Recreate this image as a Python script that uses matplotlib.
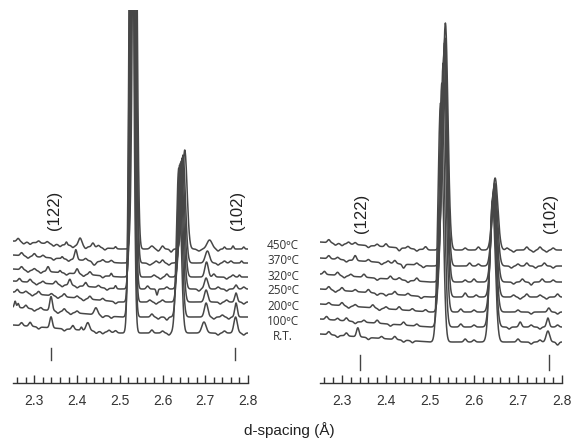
import numpy as np
import matplotlib
matplotlib.use("Agg")
import matplotlib.pyplot as plt
from matplotlib.ticker import MultipleLocator

# temperatures, top trace first
temps = ["450ºC", "370ºC", "320ºC", "250ºC", "200ºC", "100ºC", "R.T."]

# left panel (values in px above the axis line)
offsets_left = [134, 120, 106, 94, 81, 66, 50]
rise_left = [8, 8, 8, 8, 10, 10, 8]
main_pos_left = [2.535, 2.533, 2.532, 2.530, 2.529, 2.528, 2.527]
main_h_left = [520, 560, 600, 580, 620, 640, 650]
second_pos_left = [2.652, 2.648, 2.646, 2.644, 2.642, 2.640, 2.638]
second_h_left = [99, 108, 119, 128, 139, 152, 165]
minor_left = [
    [(2.262, 3, .003), (2.275, -2, .003), (2.29, -2, .003), (2.31, 2, .003), (2.33, 2, .003), (2.345, -2, .003),
     (2.36, -2, .003), (2.375, 3, .002), (2.39, -2, .003), (2.407, 8, .004), (2.42, -2, .003), (2.437, 4, .003),
     (2.45, 2, .003), (2.465, -2, .003), (2.49, 2, .002), (2.575, 3, .004), (2.59, -2, .003), (2.60, 3, .003),
     (2.62, -3, .003), (2.685, -2, .004), (2.71, 9, .006), (2.73, -2, .003), (2.745, 2, .002), (2.765, 3, .002),
     (2.79, 2, .002)],
    [(2.27, 3, .003), (2.285, -2, .003), (2.30, 3, .003), (2.32, 2, .003), (2.345, -2, .003), (2.365, 2, .002),
     (2.38, -2, .003), (2.397, 10, .003), (2.42, 2, .003), (2.44, -4, .004), (2.46, 2, .003), (2.48, 2, .003),
     (2.57, -2, .004), (2.585, 2, .003), (2.60, 3, .003), (2.615, -2, .003), (2.705, 12, .005), (2.73, -2, .003),
     (2.745, 2, .003), (2.76, 2, .003), (2.785, 2, .002)],
    [(2.27, 3, .003), (2.285, -2, .003), (2.30, 2, .003), (2.315, -2, .003), (2.332, 5, .003), (2.36, 2, .002),
     (2.375, -2, .003), (2.40, 5, .003), (2.415, -2, .003), (2.43, 3, .003), (2.46, -2, .003), (2.48, 3, .002),
     (2.58, 2, .003), (2.595, -2, .003), (2.61, 3, .003), (2.703, 15, .004), (2.72, 3, .003), (2.75, -2, .003),
     (2.765, 2, .003), (2.78, 2, .002)],
    [(2.265, 3, .003), (2.29, 3, .003), (2.305, -2, .003), (2.32, 2, .003), (2.35, 3, .003), (2.365, -2, .003),
     (2.383, 6, .003), (2.40, -2, .003), (2.42, 4, .003), (2.45, 2, .003), (2.47, -2, .003), (2.49, 3, .002),
     (2.565, 3, .003), (2.587, -6, .002), (2.61, 2, .003), (2.685, -2, .003), (2.702, 11, .004), (2.73, 2, .003),
     (2.75, -2, .003), (2.772, 4, .003), (2.79, 2, .003)],
    [(2.26, 3, .003), (2.28, 2, .003), (2.295, -2, .003), (2.31, 3, .003), (2.34, 2, .003), (2.355, -2, .003),
     (2.37, 3, .003), (2.40, 2, .003), (2.415, -2, .003), (2.43, 3, .003), (2.46, 2, .003), (2.49, -2, .003),
     (2.57, 2, .003), (2.585, -2, .003), (2.60, 2, .003), (2.702, 12, .004), (2.735, -2, .003), (2.75, 2, .003),
     (2.772, 9, .003), (2.79, -2, .003)],
    [(2.255, 6, .002), (2.262, 4, .002), (2.28, 3, .003), (2.30, -2, .003), (2.315, 2, .003), (2.339, 14, .003),
     (2.355, -2, .003), (2.37, 3, .003), (2.385, -2, .003), (2.40, 2, .003), (2.444, 7, .004), (2.46, -2, .003),
     (2.48, -2, .003), (2.575, 3, .003), (2.59, -2, .003), (2.61, -3, .003), (2.702, 14, .004), (2.72, -2, .003),
     (2.74, 2, .003), (2.755, -2, .003), (2.772, 14, .003)],
    [(2.27, 3, .003), (2.29, 4, .003), (2.31, -2, .003), (2.339, 11, .003), (2.37, -2, .003), (2.39, 4, .003),
     (2.41, 3, .002), (2.425, 8, .004), (2.445, -2, .003), (2.46, -2, .003), (2.475, 2, .003), (2.49, 2, .003),
     (2.575, 3, .003), (2.60, 2, .003), (2.615, -2, .003), (2.697, 11, .005), (2.73, -2, .003), (2.745, 2, .003),
     (2.771, 16, .004), (2.79, -2, .003)],
]

# right panel
offsets_right = [133, 117, 101, 86, 71, 56, 41]
rise_right = [8, 8, 8, 8, 8, 8, 8]
main_pos_right = [2.535, 2.534, 2.533, 2.532, 2.530, 2.527, 2.524]
main_h_right = [227, 228, 239, 244, 249, 244, 239]
second_pos_right = [2.648, 2.647, 2.646, 2.645, 2.644, 2.643, 2.642]
second_h_right = [72, 83, 95, 106, 119, 130, 141]
minor_right = [
    [(2.27, 3, .003), (2.285, -2, .003), (2.30, -2, .003), (2.315, 2, .003), (2.33, 2, .003), (2.36, -2, .003),
     (2.38, 2, .003), (2.40, 3, .003), (2.43, -3, .003), (2.45, 2, .003), (2.47, -2, .003), (2.49, 3, .003),
     (2.58, 2, .003), (2.61, 3, .003), (2.675, 2, .003), (2.69, -2, .003), (2.72, 3, .003), (2.735, -2, .003),
     (2.75, 3, .003), (2.765, -2, .003), (2.78, 2, .003)],
    [(2.27, 3, .003), (2.29, 2, .003), (2.31, -2, .003), (2.33, 5, .003), (2.36, 2, .003), (2.39, -2, .003),
     (2.405, 2, .003), (2.42, 3, .003), (2.44, -4, .003), (2.47, 2, .003), (2.485, -2, .003), (2.59, 3, .003),
     (2.61, 2, .003), (2.685, -2, .003), (2.70, 2, .003), (2.72, 3, .003), (2.74, -2, .003), (2.76, 3, .003),
     (2.78, -2, .003)],
    [(2.26, 3, .003), (2.29, 3, .003), (2.305, -2, .003), (2.32, 2, .003), (2.35, 3, .003), (2.38, -2, .003),
     (2.41, 3, .003), (2.43, 2, .003), (2.45, -2, .003), (2.47, 3, .003), (2.58, 2, .003), (2.60, 3, .003),
     (2.69, -2, .003), (2.71, 3, .003), (2.73, -3, .003), (2.755, 3, .003), (2.78, 2, .003)],
    [(2.27, 3, .003), (2.285, -2, .003), (2.30, 3, .003), (2.33, 2, .003), (2.36, 3, .003), (2.38, -2, .003),
     (2.40, -2, .003), (2.42, 3, .003), (2.45, 2, .003), (2.48, -2, .003), (2.58, 4, .003), (2.605, 2, .003),
     (2.69, 2, .003), (2.705, -2, .003), (2.72, 3, .003), (2.75, 2, .003), (2.765, -2, .003), (2.79, 3, .003)],
    [(2.27, 2, .003), (2.30, 3, .003), (2.315, -2, .003), (2.33, 2, .003), (2.37, 3, .003), (2.385, -2, .003),
     (2.40, 2, .003), (2.43, 3, .003), (2.46, 2, .003), (2.49, 2, .003), (2.57, 3, .003), (2.60, 2, .003),
     (2.70, 2, .003), (2.73, -2, .003), (2.77, 4, .003), (2.79, -2, .003)],
    [(2.265, 3, .003), (2.29, 2, .003), (2.31, 3, .003), (2.33, -2, .003), (2.35, 2, .003), (2.38, 3, .003),
     (2.41, -2, .003), (2.44, 3, .003), (2.47, 2, .003), (2.57, 3, .003), (2.60, 2, .003), (2.68, -2, .003),
     (2.705, 5, .003), (2.73, 2, .003), (2.75, -2, .003), (2.768, 9, .003), (2.79, 2, .003)],
    [(2.27, 3, .003), (2.29, -2, .003), (2.31, 3, .003), (2.336, 9, .003), (2.36, -2, .003), (2.39, 2, .003),
     (2.42, 3, .003), (2.44, -2, .003), (2.46, -2, .003), (2.58, 3, .003), (2.60, 2, .003), (2.70, 3, .003),
     (2.73, -2, .003), (2.75, 2, .003), (2.768, 11, .004), (2.79, -3, .003)],
]

hkl_labels = ["(122)", "(102)"]
hkl_pos = [2.34, 2.77]

d = np.linspace(2.25, 2.8, 1101)


def trace(off, rise, peaks):
	y = off + rise * np.clip((2.5 - d) / 0.25, 0, 1)
	for p, h, w in peaks:
		y = y + h * np.exp(-(d - p) ** 2 / (2 * w ** 2))
	return y


def setup_axis(ax):
	ax.set_xlim(2.25, 2.8)
	ax.set_ylim(0, 373)
	for s in ["top", "left", "right"]:
		ax.spines[s].set_visible(False)
	ax.spines["bottom"].set_color("#333333")
	ax.spines["bottom"].set_linewidth(1.0)
	ax.set_yticks([])
	ax.xaxis.set_major_locator(MultipleLocator(0.1))
	ax.xaxis.set_minor_locator(MultipleLocator(0.02))
	ax.tick_params(axis="x", which="major", direction="in", length=6, width=1, color="#333333",
	               labelsize=10, labelcolor="#333333", pad=8)
	ax.tick_params(axis="x", which="minor", direction="in", length=4, width=1, color="#333333")
	for lab in ax.get_xticklabels():
		lab.set_fontfamily("Liberation Sans")
	ax.patch.set_alpha(0)


fig = plt.figure(figsize=(5.71, 4.44), dpi=100)
ax1 = fig.add_axes([0.0228, 0.1374, 0.4115, 0.840])
ax2 = fig.add_axes([0.5604, 0.1374, 0.4238, 0.840])

for i in range(len(temps)):
	peaks = [(main_pos_left[i], main_h_left[i], 0.0047), (second_pos_left[i], second_h_left[i], 0.0055)]
	peaks += minor_left[i]
	ax1.plot(d, trace(offsets_left[i], rise_left[i], peaks), color="#474747", lw=1.1)

	peaks = [(main_pos_right[i], main_h_right[i], 0.0058), (second_pos_right[i], second_h_right[i], 0.0062)]
	peaks += minor_right[i]
	ax2.plot(d, trace(offsets_right[i], rise_right[i], peaks), color="#474747", lw=1.1)

setup_axis(ax1)
setup_axis(ax2)

# hkl marks and labels
for p, lab in zip(hkl_pos, hkl_labels):
	ax1.plot([p, p], [23, 35], color="#444444", lw=1)
	ax1.text(p + 0.006, 173, lab, rotation=90, ha="center", va="center", fontsize=12,
	         family="Liberation Sans", color="#222222")
	ax2.plot([p, p], [13, 28], color="#444444", lw=1)
	ax2.text(p + 0.005, 170, lab, rotation=90, ha="center", va="center", fontsize=12,
	         family="Liberation Sans", color="#222222")

temp_y = [245, 261, 276, 291, 306, 321, 336]
for t, py in zip(temps, temp_y):
	fig.text(283 / 571, 1 - py / 444, t, ha="center", va="center", fontsize=8.5,
	         family="Open Sans", color="#333333")

fig.text(289 / 571, 1 - 430 / 444, "d-spacing (Å)", ha="center", va="center", fontsize=11,
         family="Liberation Sans", color="#222222")

fig.savefig("out.png", dpi=100)
